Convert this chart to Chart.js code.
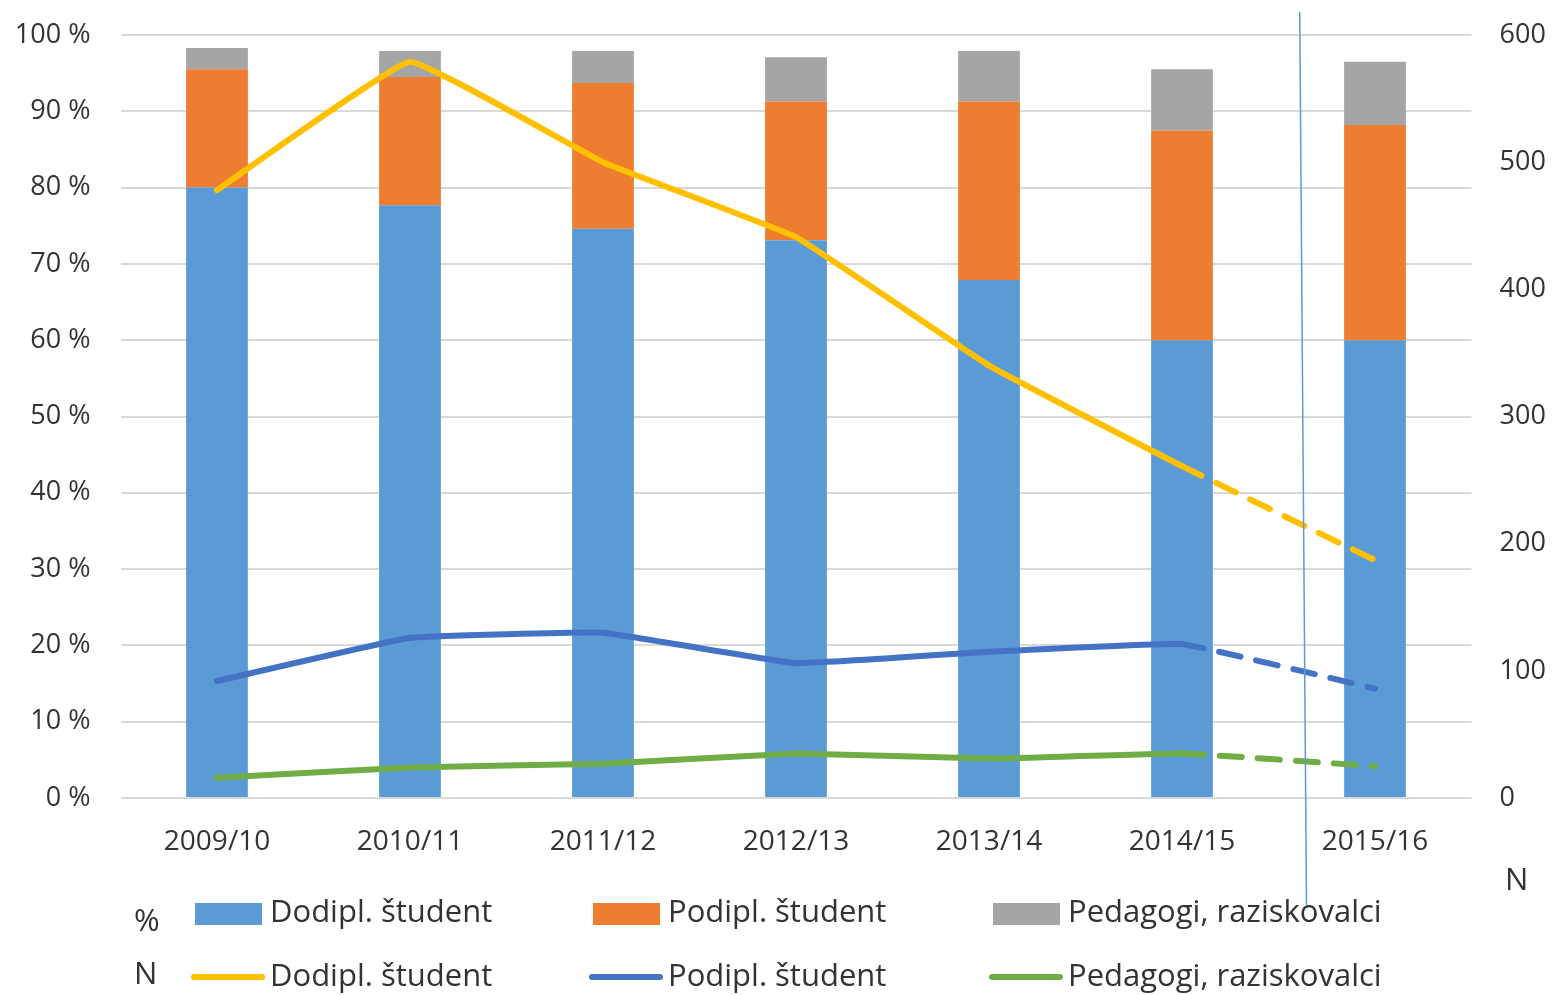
<!DOCTYPE html>
<html>
<head>
<meta charset="utf-8">
<script src="https://cdn.jsdelivr.net/npm/chart.js@4/dist/chart.umd.min.js"></script>
<style>
  html, body { margin: 0; padding: 0; background: #fff; }
  #wrap { position: relative; width: 1556px; height: 995px; font-family: "Open Sans", sans-serif; color: #333; }
  #myChart { position: absolute; left: 0; top: 0; }
  .lbl { position: absolute; font-size: 31px; line-height: 1; white-space: nowrap; }
  .box { position: absolute; width: 67px; height: 22px; }
  .ln { position: absolute; width: 74px; height: 6px; border-radius: 3px; }
</style>
</head>
<body>
<div id="wrap">
  <canvas id="myChart" width="1556" height="995"></canvas>

  <div class="lbl" style="left:1505px; top:863px;">N</div>

  <div class="lbl" style="left:134px; top:904px;">%</div>
  <div class="box" style="left:195px; top:903px; background:#5B9BD5;"></div>
  <div class="lbl" style="left:270px; top:895px;">Dodipl. študent</div>
  <div class="box" style="left:593px; top:903px; background:#ED7D31;"></div>
  <div class="lbl" style="left:668px; top:895px;">Podipl. študent</div>
  <div class="box" style="left:993px; top:903px; background:#A5A5A5;"></div>
  <div class="lbl" style="left:1068px; top:895px;">Pedagogi, raziskovalci</div>

  <div class="lbl" style="left:134px; top:957px;">N</div>
  <div class="ln" style="left:191px; top:974px; background:#FFC000;"></div>
  <div class="lbl" style="left:270px; top:959px;">Dodipl. študent</div>
  <div class="ln" style="left:589px; top:974px; background:#4472C4;"></div>
  <div class="lbl" style="left:668px; top:959px;">Podipl. študent</div>
  <div class="ln" style="left:989px; top:974px; background:#70AD47;"></div>
  <div class="lbl" style="left:1068px; top:959px;">Pedagogi, raziskovalci</div>
</div>

<script>
const years = ["2009/10", "2010/11", "2011/12", "2012/13", "2013/14", "2014/15", "2015/16"];

// shares in % (stacked bars, left axis)
const pctDodipl = [80, 77.7, 74.6, 73.1, 67.9, 60, 60];
const pctPodipl = [15.5, 16.8, 19.1, 18.2, 23.4, 27.5, 28.2];
const pctPedagogi = [2.8, 3.4, 4.2, 5.8, 6.6, 8.0, 8.3];

// counts N (lines, right axis)
const nDodipl = [478, 579, 500, 441, 340, 261, 187];
const nPodipl = [92, 126, 130, 106, 115, 121, 86];
const nPedagogi = [16, 24, 27, 35, 31, 35, 25];

const TEXT = "#333333";
const FONT = "'Open Sans', sans-serif";

// dashed look for the last (estimated) segment
const lastDash = (ctx) => (ctx.p0DataIndex === years.length - 2 ? [22, 16] : undefined);

const lineSet = (label, data, color) => ({
  type: "line",
  label,
  data,
  yAxisID: "yN",
  borderColor: color,
  backgroundColor: color,
  borderWidth: 6,
  pointRadius: 0,
  tension: 0.08,
  borderJoinStyle: "round",
  borderCapStyle: "round",
  order: 0,
  segment: { borderDash: lastDash },
});

const barSet = (label, data, color) => ({
  type: "bar",
  label,
  data,
  yAxisID: "yPct",
  stack: "pct",
  backgroundColor: color,
  borderWidth: 0,
  barPercentage: 0.32,
  categoryPercentage: 1,
  order: 1,
});

// thin vertical separator between measured and estimated year
const separator = {
  id: "separator",
  afterDatasetsDraw(chart) {
    const { ctx, chartArea, scales } = chart;
    const xTop = scales.x.getPixelForValue(5.61);
    const xBottom = scales.x.getPixelForValue(5.645);
    ctx.save();
    ctx.strokeStyle = "#5B9BD5";
    ctx.lineWidth = 1.5;
    ctx.beginPath();
    ctx.moveTo(xTop, chartArea.top - 23);
    ctx.lineTo(xBottom, chartArea.bottom + 107);
    ctx.stroke();
    ctx.restore();
  },
};

const fitSide = (width) => (scale) => {
  scale.width = width;
  scale.paddingTop = 0;
  scale.paddingBottom = 0;
};

const ctx = document.getElementById("myChart").getContext("2d");
const myChart = new Chart(ctx, {
  data: {
    labels: years,
    datasets: [
      barSet("Dodipl. študent", pctDodipl, "#5B9BD5"),
      barSet("Podipl. študent", pctPodipl, "#ED7D31"),
      barSet("Pedagogi, raziskovalci", pctPedagogi, "#A5A5A5"),
      lineSet("Dodipl. študent", nDodipl, "#FFC000"),
      lineSet("Podipl. študent", nPodipl, "#4472C4"),
      lineSet("Pedagogi, raziskovalci", nPedagogi, "#70AD47"),
    ],
  },
  options: {
    responsive: false,
    animation: false,
    layout: { padding: { top: 35, left: 0, right: 0, bottom: 0 } },
    plugins: {
      legend: { display: false },
      tooltip: { enabled: false },
    },
    scales: {
      x: {
        stacked: true,
        grid: { display: false },
        border: { display: false },
        ticks: { color: TEXT, font: { family: FONT, size: 28 }, padding: 19, maxRotation: 0 },
        afterFit: (scale) => { scale.height = 197; },
      },
      yPct: {
        position: "left",
        stacked: true,
        min: 0,
        max: 100,
        ticks: {
          stepSize: 10,
          color: TEXT,
          font: { family: FONT, size: 27 },
          padding: 30,
          callback: (v) => v + " %",
        },
        grid: { color: "#D9D9D9", lineWidth: 2, drawTicks: false },
        border: { display: false },
        afterFit: fitSide(120.5),
      },
      yN: {
        position: "right",
        min: 0,
        max: 600,
        ticks: {
          stepSize: 100,
          color: TEXT,
          font: { family: FONT, size: 27 },
          padding: 28,
        },
        grid: { display: false, drawTicks: false },
        border: { display: false },
        afterFit: fitSide(84.5),
      },
    },
  },
  plugins: [separator],
});
</script>
</body>
</html>
